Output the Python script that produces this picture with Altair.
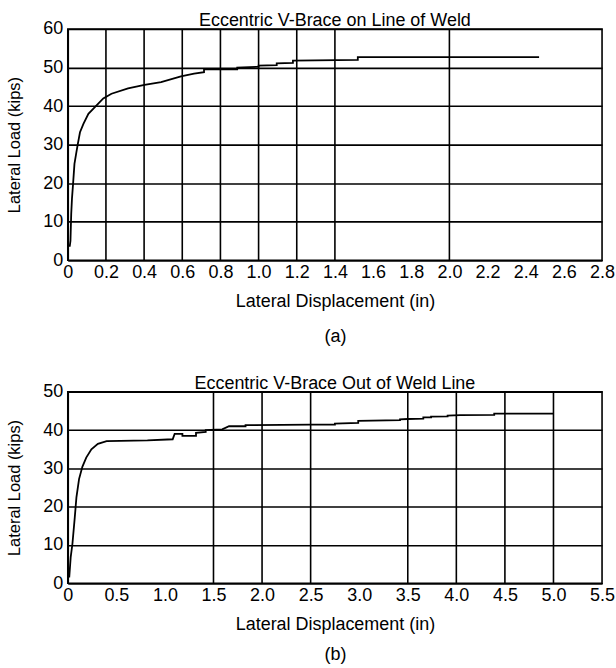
import altair as alt
import pandas as pd

# ---- Panel (a): Eccentric V-Brace on Line of Weld ----
a_disp = [0.010, 0.014, 0.018, 0.022, 0.028, 0.035, 0.045, 0.052, 0.064, 0.082,
          0.108, 0.142, 0.186, 0.229, 0.316, 0.402, 0.489, 0.593, 0.662, 0.714,
          0.714, 0.888, 0.888, 1.000, 1.000, 1.095, 1.095, 1.180, 1.180, 1.520,
          1.520, 2.470]
a_load = [3.5, 5.0, 12.0, 16.0, 20.0, 25.0, 28.0, 30.0, 33.2, 35.4,
          38.0, 39.7, 42.0, 43.2, 44.6, 45.5, 46.2, 47.7, 48.4, 48.8,
          49.5, 49.5, 50.0, 50.2, 50.5, 50.6, 51.1, 51.2, 51.8, 52.0,
          52.7, 52.7]
a_xticks = [0, 0.2, 0.4, 0.6, 0.8, 1.0, 1.2, 1.4, 1.6, 1.8, 2.0, 2.2, 2.4, 2.6, 2.8]
a_vgrid = [0.2, 0.4, 0.6, 0.8, 1.0, 1.2, 1.4, 2.0]
a_yticks = [0, 10, 20, 30, 40, 50, 60]

# ---- Panel (b): Eccentric V-Brace Out of Weld Line ----
b_disp = [0.015, 0.030, 0.048, 0.072, 0.089, 0.116, 0.150, 0.190, 0.243, 0.310,
          0.400, 0.820, 1.080, 1.100, 1.180, 1.180, 1.320, 1.320, 1.420, 1.420,
          1.590, 1.660, 1.830, 1.830, 2.500, 2.750, 2.750, 2.990, 2.990, 3.420,
          3.420, 3.500, 3.660, 3.660, 3.740, 3.740, 3.910, 3.910, 4.040, 4.390,
          4.390, 5.000]
b_load = [1.5, 6.8, 10.3, 17.2, 22.4, 27.2, 30.4, 32.8, 35.0, 36.4,
          37.1, 37.3, 37.6, 39.0, 39.0, 38.5, 38.5, 39.3, 39.5, 40.0,
          40.2, 41.0, 41.0, 41.3, 41.4, 41.4, 41.7, 41.9, 42.4, 42.6,
          42.8, 42.9, 43.0, 43.3, 43.3, 43.5, 43.6, 43.8, 43.9, 44.0,
          44.3, 44.3]
b_xticks = [0, 0.5, 1.0, 1.5, 2.0, 2.5, 3.0, 3.5, 4.0, 4.5, 5.0, 5.5]
b_vgrid = [1.5, 2.0, 2.5, 3.5, 4.0, 4.5, 5.0]
b_yticks = [0, 10, 20, 30, 40, 50]

FONT = "Liberation Sans"
LW = 1.6


def panel(xs, ys, xticks, vgrid, xmax, yticks, ymax, title, caption, h, cap_lh):
    df = pd.DataFrame({"x": xs, "y": ys, "i": list(range(len(xs)))})
    gdf = pd.DataFrame({"x": vgrid})
    xscale = alt.Scale(domain=[0, xmax], nice=False, zero=True)
    yscale = alt.Scale(domain=[0, ymax], nice=False)
    xaxis = alt.Axis(values=xticks, grid=False, ticks=False,
                     labelExpr="datum.value == 0 ? '0' : format(datum.value, '.1f')",
                     labelPadding=3, labelFlush=False, labelOverlap=False,
                     title=["Lateral Displacement (in)", caption],
                     titlePadding=11, titleLineHeight=cap_lh)
    yaxis = alt.Axis(values=yticks, grid=True, ticks=False, labelPadding=5,
                     title="Lateral Load (kips)", titlePadding=20,
                     titleFontSize=16.5)
    rules = alt.Chart(gdf).mark_rule(color="black", strokeWidth=LW).encode(
        x=alt.X("x:Q", scale=xscale, axis=xaxis)
    )
    line = alt.Chart(df).mark_line(color="black", strokeWidth=1.8).encode(
        x=alt.X("x:Q", scale=xscale, axis=xaxis),
        y=alt.Y("y:Q", scale=yscale, axis=yaxis),
        order="i:Q",
    )
    return alt.layer(rules, line).properties(
        width=536, height=h,
        title=alt.TitleParams(title, fontSize=18, font=FONT, fontWeight="normal",
                              color="black", offset=-10),
    )


top = panel(a_disp, a_load, a_xticks, a_vgrid, 2.8, a_yticks, 60,
            "Eccentric V-Brace on Line of Weld", "(a)", 232, 36)
bottom = panel(b_disp, b_load, b_xticks, b_vgrid, 5.5, b_yticks, 50,
               "Eccentric V-Brace Out of Weld Line", "(b)", 192, 31)

chart = alt.vconcat(top, bottom, spacing=27).properties(
    padding={"left": 6, "top": 10, "right": 0, "bottom": 0},
    background="white",
).configure_view(
    stroke="black", strokeWidth=LW
).configure_axis(
    labelFont=FONT, titleFont=FONT, labelFontSize=18, titleFontSize=18,
    titleFontWeight="normal", labelColor="black", titleColor="black",
    domainColor="black", domainWidth=LW, gridColor="black", gridWidth=LW,
    gridOpacity=1,
)

chart.save("out.html", embed_options={"renderer": "svg", "actions": False})
